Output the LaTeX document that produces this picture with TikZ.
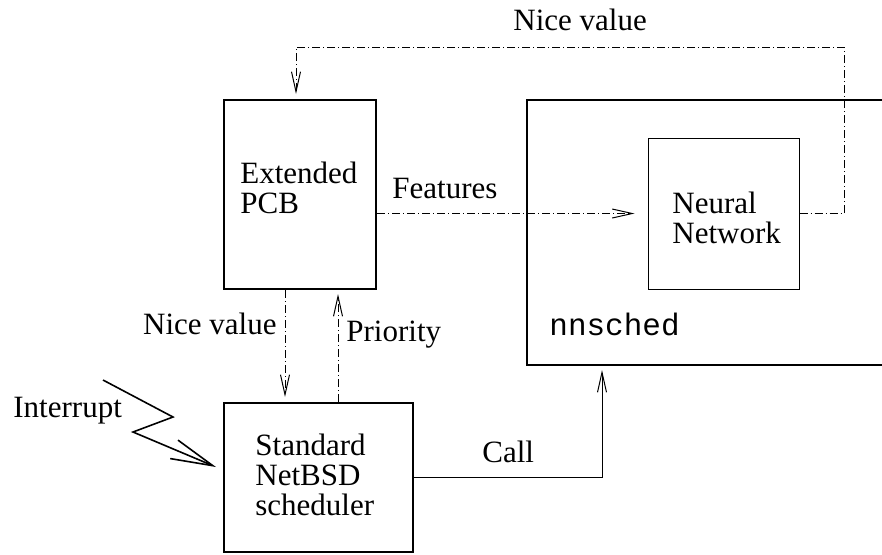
\documentclass[tikz,border=0pt]{standalone}
\usepackage{fontspec}
\setmainfont{Liberation Serif}
\setmonofont{Liberation Mono}
\usetikzlibrary{arrows.meta}
\begin{document}
\begin{tikzpicture}[x=0.5pt,y=-0.5pt,
  font=\fontsize{15.5}{15}\selectfont,
  thickbox/.style={draw,line width=1pt,inner sep=0pt},
  thinbox/.style={draw,line width=0.5pt,inner sep=0pt},
  txt/.style={anchor=base west,inner sep=0pt,align=left},
  dd/.style={line width=0.5pt,dash pattern=on 4pt off 1.5pt on 0.5pt off 1.5pt},
  conn/.style={line width=0.5pt},
  tip/.style={-{Straight Barb[length=10pt,width=4.5pt]}}
]
\useasboundingbox (0,0) rectangle (882,554);

% boxes
\node[thickbox,minimum width=76pt,minimum height=94.5pt] (pcb) at (300,194.5) {};
\node[thickbox,minimum width=94.5pt,minimum height=74.5pt] (sched) at (318.5,477.5) {};
\node[thickbox,minimum width=200pt,minimum height=132.5pt] (nns) at (727,232.5) {};
\node[thinbox,minimum width=75.5pt,minimum height=75.5pt] (nn) at (723.5,213.5) {};

% box texts (base anchor = last line baseline)
\node[txt] (pcbtxt) at (240,213) {Extended\\PCB};
\node[txt] (schedtxt) at (255,515) {Standard\\NetBSD\\scheduler};
\node[txt] (nntxt) at (672,243) {Neural\\Network};
\node[txt,font=\fontsize{15.5}{15}\ttfamily] (nnstxt) at (549,335) {nnsched};

% helper coordinates
\coordinate (tr) at (844,47);
\coordinate (tl) at (296,47);
\coordinate (nvx) at (285,0);
\coordinate (prx) at (338,0);
\coordinate (callx) at (602,0);

% Features
\draw[dd,tip] (pcb.east |- nn.west) -- ([xshift=-6.5pt]nn.west);
\node[txt] (feat) at (392,198) {Features};

% Nice value loop
\draw[dd,tip] (nn.east) -| (tr) -- (tl) -- ([yshift=2.5pt]pcb.north -| tl);
\node[txt] (nvtop) at (513,30) {Nice value};

% Nice value down / Priority up
\draw[dd,tip] (pcb.south -| nvx) -- ([yshift=2.5pt]sched.north -| nvx);
\node[anchor=base east,inner sep=0pt] (nvside) at (277,334) {Nice value};
\draw[dd,tip] (sched.north -| prx) -- ([yshift=-2pt]pcb.south -| prx);
\node[txt] (prio) at (346,341) {Priority};

% Call
\draw[conn,tip] (sched.east) -| ([yshift=-2pt]nns.south -| callx);
\node[txt] (call) at (482,462) {Call};

% Interrupt
\node[txt] (intr) at (13,417) {Interrupt};
\coordinate (z0) at (103,380);
\coordinate (z1) at (173,417);
\coordinate (z2) at (133,432);
\draw[line width=0.8pt,-{Straight Barb[length=21pt,width=10pt,line width=0.8pt]}]
  (z0) -- (z1) -- (z2) -- ([xshift=-3.5pt,yshift=5.25pt]sched.west);
\end{tikzpicture}
\end{document}
